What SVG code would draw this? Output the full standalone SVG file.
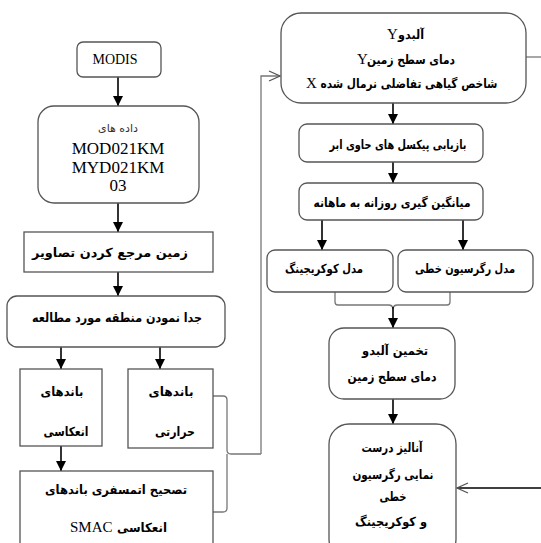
<svg xmlns="http://www.w3.org/2000/svg" width="541" height="543" viewBox="0 0 541 543">
<style>
.box{fill:#fff;stroke:#555;stroke-width:1.3}
.conn{stroke:#000;stroke-width:1.6;fill:none}
.gray{stroke:#777;stroke-width:1.3;fill:none}
.ar{font-family:"DejaVu Sans",sans-serif;font-weight:bold;font-size:12.5px;text-anchor:middle;fill:#000}
.lat{font-family:"Liberation Serif",serif;fill:#000}
</style>
<defs>
<marker id="ah" markerUnits="userSpaceOnUse" markerWidth="11" markerHeight="11" refX="10" refY="5" orient="auto">
<path d="M0,0 L10,5 L0,10 z" fill="#000"/>
</marker>
<marker id="oh" markerUnits="userSpaceOnUse" markerWidth="14" markerHeight="14" refX="12" refY="6" orient="auto">
<path d="M1,1 L12,6 L1,11" fill="none" stroke="#555" stroke-width="1.3"/>
</marker>
</defs>
<rect width="541" height="543" fill="#fff"/>

<g id="connectors">
<line class="conn" x1="118" y1="77" x2="118" y2="106" marker-end="url(#ah)"/>
<line class="conn" x1="118" y1="203" x2="118" y2="232" marker-end="url(#ah)"/>
<line class="conn" x1="118" y1="272" x2="118" y2="296" marker-end="url(#ah)"/>
<line class="conn" x1="61" y1="347" x2="61" y2="369" marker-end="url(#ah)"/>
<line class="conn" x1="160" y1="347" x2="160" y2="369" marker-end="url(#ah)"/>
<line class="conn" x1="61" y1="446" x2="61" y2="471" marker-end="url(#ah)"/>
<path class="gray" d="M213,396 L223,396 Q227,396 227,400 L227,450 Q227,454 231,454 L261,454 M227,454 Q227,456 227,460 L227,508 Q227,512 223,512 L213,512"/>
<path class="gray" d="M261,454 L261,76 L280,76" marker-end="url(#oh)"/>
<line class="gray" x1="526" y1="57" x2="541" y2="57"/>
<line class="conn" x1="393" y1="103" x2="393" y2="124" marker-end="url(#ah)"/>
<line class="conn" x1="393" y1="162" x2="393" y2="183" marker-end="url(#ah)"/>
<line class="conn" x1="322" y1="220" x2="322" y2="250" marker-end="url(#ah)"/>
<line class="conn" x1="463" y1="220" x2="463" y2="250" marker-end="url(#ah)"/>
<path class="gray" d="M335,292 L335,302 Q335,305 338,305 L389,305 Q392,305 393,308 Q394,305 397,305 L447,305 Q450,305 450,302 L450,292"/>
<line class="conn" x1="393" y1="307" x2="393" y2="328" marker-end="url(#ah)"/>
<line class="conn" x1="393" y1="399" x2="393" y2="424" marker-end="url(#ah)"/>
<line x1="541" y1="488" x2="457" y2="488" style="stroke:#000;stroke-width:1.3" marker-end="url(#oh)"/>
</g>

<g id="modis">
<rect class="box" x="77" y="42" width="84" height="35" rx="6"/>
<text class="lat" x="115" y="64" font-size="14" text-anchor="middle">MODIS</text>
</g>
<g id="data">
<rect class="box" x="38" y="106" width="161" height="97" rx="16"/>
<text x="118" y="132" font-family="DejaVu Sans,sans-serif" font-size="11" text-anchor="middle" fill="#333" textLength="40" lengthAdjust="spacingAndGlyphs">داده های</text>
<text class="lat" x="118" y="154" font-size="17" text-anchor="middle">MOD021KM</text>
<text class="lat" x="118" y="173" font-size="17" text-anchor="middle">MYD021KM</text>
<text class="lat" x="118" y="191" font-size="17" text-anchor="middle">03</text>
</g>
<g id="georef">
<rect class="box" x="24" y="232" width="189" height="40"/>
<text class="ar" x="110" y="257" textLength="156" lengthAdjust="spacingAndGlyphs">زمین مرجع کردن تصاویر</text>
</g>
<g id="subset">
<rect class="box" x="7" y="296" width="218" height="51" rx="10"/>
<text class="ar" x="117" y="322" textLength="170" lengthAdjust="spacingAndGlyphs">جدا نمودن منطقه مورد مطالعه</text>
</g>
<g id="reflective">
<rect class="box" x="20" y="369" width="82" height="77"/>
<text class="ar" x="62" y="396" textLength="43" lengthAdjust="spacingAndGlyphs">باندهای</text>
<text class="ar" x="66" y="436" textLength="45" lengthAdjust="spacingAndGlyphs">انعکاسی</text>
</g>
<g id="thermal">
<rect class="box" x="128" y="369" width="85" height="79"/>
<text class="ar" x="171" y="396" textLength="45" lengthAdjust="spacingAndGlyphs">باندهای</text>
<text class="ar" x="175" y="436" textLength="40" lengthAdjust="spacingAndGlyphs">حرارتی</text>
</g>
<g id="smac">
<rect class="box" x="20" y="471" width="193" height="80"/>
<text class="ar" x="116" y="494" textLength="142" lengthAdjust="spacingAndGlyphs">تصحیح اتمسفری باندهای</text>
<text class="lat" x="70" y="532" font-size="15">SMAC</text>
<text class="ar" x="142" y="532" textLength="50" lengthAdjust="spacingAndGlyphs">انعکاسی</text>
</g>

<g id="products">
<rect class="box" x="281" y="13" width="245" height="90" rx="20"/>
<text class="lat" x="387" y="39" font-size="15">Y</text>
<text class="ar" x="411" y="39" textLength="26" lengthAdjust="spacingAndGlyphs">آلبدو</text>
<text class="lat" x="357" y="64" font-size="15">Y</text>
<text class="ar" x="411" y="64" textLength="88" lengthAdjust="spacingAndGlyphs">دمای سطح زمین</text>
<text class="lat" x="306" y="88" font-size="15">X</text>
<text class="ar" x="409" y="88" textLength="177" lengthAdjust="spacingAndGlyphs">شاخص گیاهی تفاضلی نرمال شده</text>
</g>
<g id="cloud">
<rect class="box" x="299" y="124" width="184" height="38" rx="8"/>
<text class="ar" x="398" y="149" textLength="137" lengthAdjust="spacingAndGlyphs">بازیابی پیکسل های حاوی ابر</text>
</g>
<g id="monthly">
<rect class="box" x="299" y="183" width="184" height="37" rx="8"/>
<text class="ar" x="392" y="207" textLength="157" lengthAdjust="spacingAndGlyphs">میانگین گیری روزانه به ماهانه</text>
</g>
<g id="cokriging">
<rect class="box" x="267" y="250" width="126" height="42" rx="8"/>
<text class="ar" x="324" y="273" textLength="78" lengthAdjust="spacingAndGlyphs">مدل کوکریجینگ</text>
</g>
<g id="regression">
<rect class="box" x="398" y="250" width="135" height="42" rx="8"/>
<text class="ar" x="465" y="273" textLength="100" lengthAdjust="spacingAndGlyphs">مدل رگرسیون خطی</text>
</g>
<g id="estimate">
<rect class="box" x="329" y="328" width="126" height="71" rx="15"/>
<text class="ar" x="395" y="355" textLength="66" lengthAdjust="spacingAndGlyphs">تخمین آلبدو</text>
<text class="ar" x="392" y="381" textLength="89" lengthAdjust="spacingAndGlyphs">دمای سطح زمین</text>
</g>
<g id="analysis">
<rect class="box" x="329" y="424" width="127" height="135" rx="20"/>
<text class="ar" x="392" y="452" textLength="61" lengthAdjust="spacingAndGlyphs">آنالیز درست</text>
<text class="ar" x="393" y="479" textLength="81" lengthAdjust="spacingAndGlyphs">نمایی رگرسیون</text>
<text class="ar" x="393" y="501" textLength="27" lengthAdjust="spacingAndGlyphs">خطی</text>
<text class="ar" x="391" y="526" textLength="72" lengthAdjust="spacingAndGlyphs">و کوکریجینگ</text>
</g>
</svg>
